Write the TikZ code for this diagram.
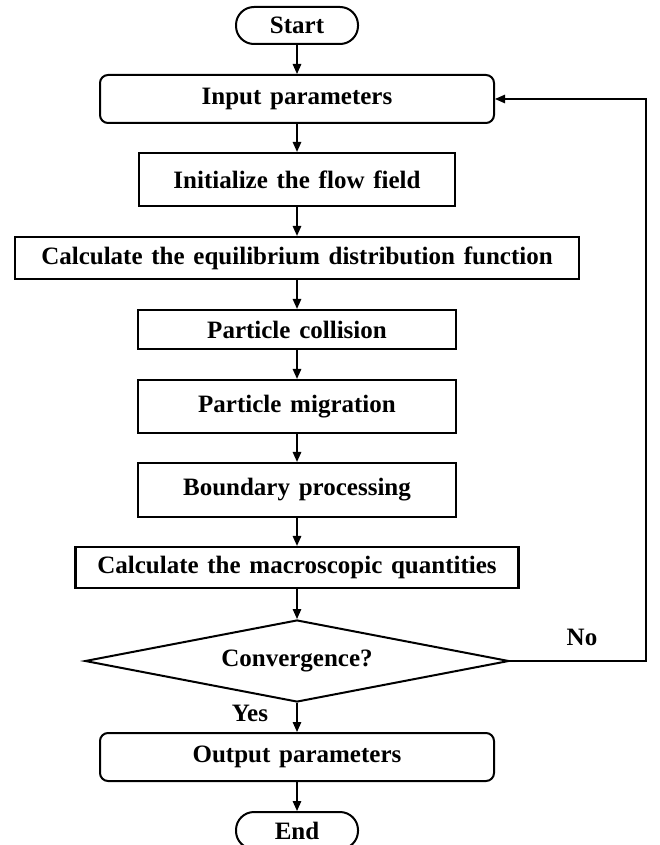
\documentclass[tikz,border=0pt]{standalone}
\usepackage{fontspec}
\setmainfont[WordSpace=1.4]{Liberation Serif}
\usetikzlibrary{shapes.geometric,arrows.meta}

\begin{document}
\begin{tikzpicture}[x=1pt, y=-1pt,
    font=\bfseries\fontsize{25}{30}\selectfont,
    every node/.style={inner sep=0pt},
    terminal/.style={draw, line width=2pt, rounded corners=18pt, minimum width=122pt, minimum height=37pt},
    io/.style={draw, line width=2pt, rounded corners=8pt, minimum width=394pt, minimum height=48pt},
    process/.style={draw, line width=2.2pt},
    decision/.style={draw, diamond, line width=2pt, aspect=5.17, minimum width=424pt, minimum height=82pt},
    flow/.style={line width=1.5pt, -{Triangle[length=10pt,width=8.5pt]}}]
  \useasboundingbox (0,0) rectangle (659,845);
  \node[terminal] (start) at (297,25.5) {Start};
  \node[io] (input) at (297,99) {Input parameters};
  \node[process, minimum width=316pt, minimum height=53pt] (init) at (297,179.5) {Initialize the flow field};
  \node[process, minimum width=564pt, minimum height=42pt] (equil) at (297,258) {Calculate the equilibrium distribution function};
  \node[process, minimum width=318pt, minimum height=39pt] (collide) at (297,329.5) {Particle collision};
  \node[process, minimum width=318pt, minimum height=53pt] (migrate) at (297,406.5) {Particle migration};
  \node[process, minimum width=318pt, minimum height=54pt] (bound) at (297,490) {Boundary processing};
  \node[process, minimum width=443pt, minimum height=41pt] (macro) at (297,567.5) {Calculate the macroscopic quantities};
  \node[decision] (conv) at (297,661) {Convergence?};
  \node[io] (output) at (297,757) {Output parameters};
  \node[terminal] (end) at (297,830.5) {End};
  \node (yes) at (250,713) {Yes};
  \node (no) at (582,637) {No};
  % main line
  \foreach \a/\b in {start/input, input/init, init/equil, equil/collide, collide/migrate,
                     migrate/bound, bound/macro, macro/conv, conv/output, output/end}
    \draw[flow] (\a.south) -- (\b.north);
  % loop back
  \coordinate (back) at (646,661);
  \draw[flow, line width=1.2pt] (conv.east) -- (back) |- (input.east);
\end{tikzpicture}
\end{document}
